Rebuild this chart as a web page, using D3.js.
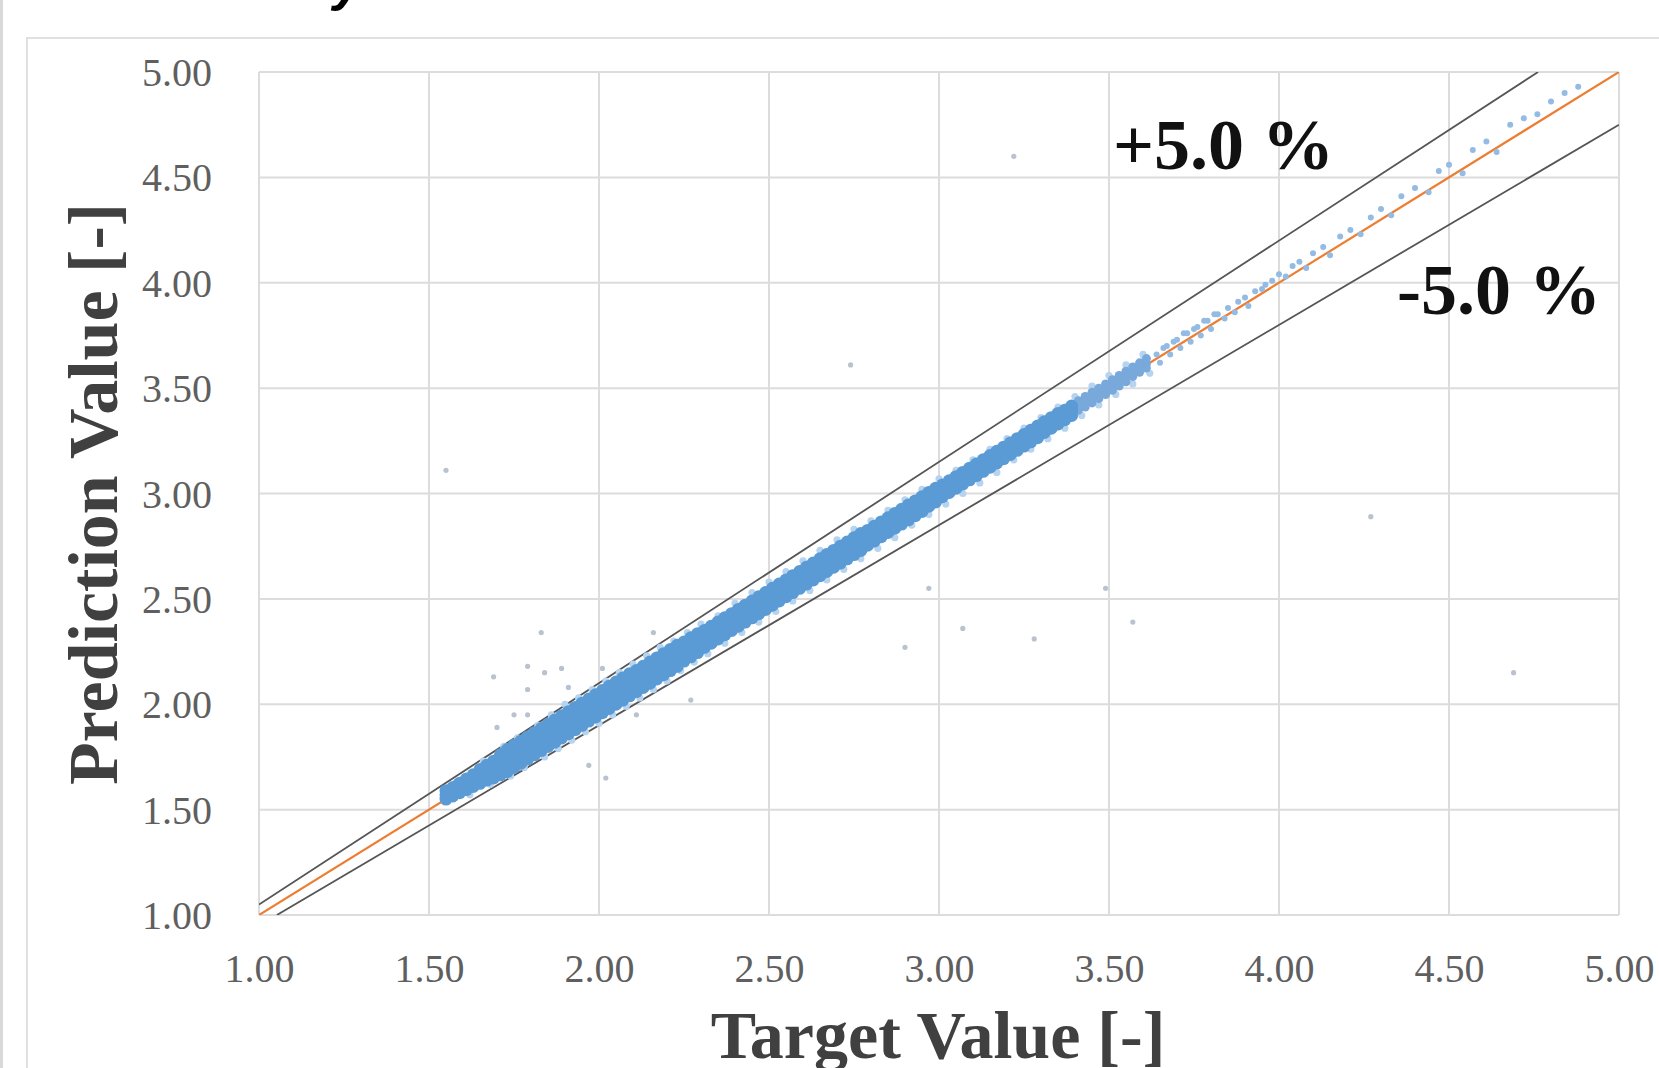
<!DOCTYPE html>
<html>
<head>
<meta charset="utf-8">
<script src="https://cdn.jsdelivr.net/npm/d3@7"></script>
<style>
  body { margin: 0; background: #fff; }
  svg { display: block; }
</style>
</head>
<body>
<div id="chart"></div>
<script>
// ticks shared by both axes
let tickValues = [1.00, 1.50, 2.00, 2.50, 3.00, 3.50, 4.00, 4.50, 5.00];
let axisDomain = [1, 5];
let xTitle = "Target Value [-]";
let yTitle = "Prediction Value [-]";
let upperLabel = "+5.0 %";
let lowerLabel = "-5.0 %";
let upperFactor = 1.05;
let lowerFactor = 0.95;

// dense band: [target, low, mid, high] prediction per column
let bandCols = [
	[1.55, 1.550, 1.570, 1.590], [1.57, 1.565, 1.585, 1.605], [1.59, 1.580, 1.600, 1.625],
	[1.61, 1.595, 1.620, 1.645], [1.63, 1.610, 1.640, 1.665], [1.65, 1.625, 1.655, 1.690],
	[1.67, 1.640, 1.675, 1.710], [1.69, 1.650, 1.690, 1.730], [1.71, 1.665, 1.715, 1.760],
	[1.73, 1.680, 1.735, 1.785], [1.75, 1.700, 1.755, 1.805], [1.77, 1.720, 1.775, 1.825],
	[1.79, 1.740, 1.795, 1.845], [1.81, 1.760, 1.815, 1.865], [1.83, 1.780, 1.835, 1.885],
	[1.85, 1.800, 1.855, 1.905], [1.87, 1.820, 1.875, 1.925], [1.89, 1.840, 1.895, 1.945],
	[1.91, 1.860, 1.915, 1.965], [1.93, 1.880, 1.935, 1.985], [1.95, 1.900, 1.955, 2.005],
	[1.97, 1.920, 1.975, 2.025], [1.99, 1.940, 1.995, 2.045], [2.01, 1.960, 2.015, 2.065],
	[2.03, 1.980, 2.035, 2.085], [2.05, 2.000, 2.055, 2.105], [2.07, 2.020, 2.075, 2.125],
	[2.09, 2.040, 2.095, 2.145], [2.11, 2.060, 2.110, 2.160], [2.13, 2.080, 2.130, 2.180],
	[2.15, 2.100, 2.150, 2.200], [2.17, 2.120, 2.170, 2.220], [2.19, 2.140, 2.190, 2.240],
	[2.21, 2.160, 2.210, 2.260], [2.23, 2.180, 2.230, 2.280], [2.25, 2.205, 2.250, 2.295],
	[2.27, 2.225, 2.270, 2.315], [2.29, 2.245, 2.290, 2.335], [2.31, 2.270, 2.310, 2.350],
	[2.33, 2.290, 2.330, 2.370], [2.35, 2.310, 2.350, 2.390], [2.37, 2.330, 2.370, 2.410],
	[2.39, 2.350, 2.390, 2.430], [2.41, 2.370, 2.410, 2.450], [2.43, 2.390, 2.430, 2.470],
	[2.45, 2.410, 2.450, 2.490], [2.47, 2.430, 2.470, 2.510], [2.49, 2.450, 2.490, 2.530],
	[2.51, 2.470, 2.510, 2.550], [2.53, 2.490, 2.530, 2.570], [2.55, 2.510, 2.550, 2.590],
	[2.57, 2.530, 2.570, 2.610], [2.59, 2.550, 2.590, 2.630], [2.61, 2.570, 2.610, 2.650],
	[2.63, 2.590, 2.630, 2.670], [2.65, 2.610, 2.650, 2.690], [2.67, 2.630, 2.670, 2.710],
	[2.69, 2.650, 2.690, 2.730], [2.71, 2.670, 2.710, 2.750], [2.73, 2.690, 2.730, 2.770],
	[2.75, 2.710, 2.750, 2.790], [2.77, 2.730, 2.770, 2.810], [2.79, 2.755, 2.790, 2.825],
	[2.81, 2.775, 2.810, 2.845], [2.83, 2.795, 2.830, 2.865], [2.85, 2.815, 2.850, 2.885],
	[2.87, 2.835, 2.870, 2.905], [2.89, 2.855, 2.890, 2.925], [2.91, 2.875, 2.910, 2.945],
	[2.93, 2.895, 2.930, 2.965], [2.95, 2.915, 2.950, 2.985], [2.97, 2.940, 2.970, 3.005],
	[2.99, 2.960, 2.990, 3.025], [3.01, 2.985, 3.015, 3.040], [3.03, 3.005, 3.035, 3.060],
	[3.05, 3.025, 3.055, 3.080], [3.07, 3.045, 3.075, 3.100], [3.09, 3.065, 3.095, 3.120],
	[3.11, 3.085, 3.115, 3.140], [3.13, 3.105, 3.135, 3.160], [3.15, 3.125, 3.155, 3.180],
	[3.17, 3.145, 3.175, 3.200], [3.19, 3.165, 3.195, 3.220], [3.21, 3.185, 3.215, 3.240],
	[3.23, 3.205, 3.235, 3.260], [3.25, 3.225, 3.255, 3.280], [3.27, 3.245, 3.275, 3.300],
	[3.29, 3.265, 3.295, 3.320], [3.31, 3.290, 3.315, 3.340], [3.33, 3.310, 3.335, 3.360],
	[3.35, 3.330, 3.355, 3.380], [3.37, 3.350, 3.375, 3.395], [3.39, 3.370, 3.395, 3.415]
];

// thinner, lighter part of the band
let thinCols = [
	[3.41, 3.395, 3.415, 3.440], [3.43, 3.410, 3.435, 3.460], [3.45, 3.430, 3.455, 3.480],
	[3.47, 3.450, 3.475, 3.500], [3.49, 3.470, 3.495, 3.520], [3.51, 3.490, 3.515, 3.540],
	[3.53, 3.510, 3.535, 3.560], [3.55, 3.530, 3.555, 3.580], [3.57, 3.555, 3.575, 3.600],
	[3.59, 3.575, 3.595, 3.620], [3.61, 3.595, 3.615, 3.640]
];

// loose points just outside the band
let fringePoints = [
	[1.58, 1.63], [1.62, 1.57], [1.66, 1.73], [1.68, 1.62], [1.72, 1.80], [1.74, 1.66],
	[1.76, 1.84], [1.78, 1.70], [1.82, 1.90], [1.84, 1.75], [1.86, 1.95], [1.88, 1.79],
	[1.90, 2.00], [1.92, 1.83], [1.94, 2.03], [1.96, 1.87], [1.98, 2.07], [2.00, 1.91],
	[2.02, 2.11], [2.04, 1.95], [2.06, 2.15], [2.08, 1.99], [2.10, 2.19], [2.12, 2.03],
	[2.14, 2.23], [2.16, 2.07], [2.18, 2.27], [2.20, 2.11], [2.22, 2.30], [2.24, 2.16],
	[2.26, 2.34], [2.28, 2.20], [2.30, 2.38], [2.32, 2.24], [2.35, 2.42], [2.37, 2.29],
	[2.40, 2.48], [2.42, 2.34], [2.45, 2.53], [2.47, 2.39], [2.50, 2.58], [2.52, 2.44],
	[2.55, 2.63], [2.57, 2.49], [2.60, 2.68], [2.62, 2.54], [2.65, 2.73], [2.67, 2.59],
	[2.70, 2.78], [2.72, 2.64], [2.75, 2.83], [2.77, 2.69], [2.80, 2.87], [2.82, 2.74],
	[2.85, 2.92], [2.87, 2.79], [2.90, 2.97], [2.92, 2.85], [2.95, 3.02], [2.97, 2.90],
	[3.00, 3.07], [3.02, 2.95], [3.05, 3.11], [3.07, 3.00], [3.10, 3.16], [3.12, 3.05],
	[3.15, 3.21], [3.17, 3.10], [3.20, 3.26], [3.22, 3.16], [3.25, 3.31], [3.27, 3.21],
	[3.30, 3.36], [3.32, 3.26], [3.35, 3.41], [3.37, 3.31], [3.40, 3.46], [3.42, 3.37],
	[3.45, 3.51], [3.47, 3.42], [3.50, 3.56], [3.52, 3.47], [3.55, 3.61], [3.57, 3.52],
	[3.60, 3.66], [3.62, 3.57]
];

// sparse points at the upper end
let sparsePoints = [
	[3.64, 3.66], [3.65, 3.62], [3.66, 3.69], [3.67, 3.70], [3.68, 3.66], [3.69, 3.72],
	[3.70, 3.73], [3.71, 3.69], [3.72, 3.76], [3.73, 3.76], [3.74, 3.72], [3.75, 3.78],
	[3.76, 3.79], [3.77, 3.75], [3.78, 3.82], [3.79, 3.82], [3.80, 3.78], [3.81, 3.85],
	[3.82, 3.85], [3.84, 3.83], [3.85, 3.88], [3.87, 3.86], [3.88, 3.91], [3.90, 3.93],
	[3.91, 3.89], [3.93, 3.96], [3.95, 3.97], [3.96, 3.99], [3.98, 4.01], [4.00, 4.04],
	[4.02, 4.03], [4.04, 4.08], [4.06, 4.10], [4.08, 4.07], [4.10, 4.14], [4.13, 4.17],
	[4.15, 4.13], [4.18, 4.22], [4.21, 4.25], [4.24, 4.23], [4.27, 4.31], [4.30, 4.35],
	[4.33, 4.32], [4.36, 4.41], [4.40, 4.45], [4.44, 4.43], [4.47, 4.53], [4.50, 4.56],
	[4.54, 4.52], [4.57, 4.63], [4.61, 4.67], [4.64, 4.62], [4.68, 4.75], [4.72, 4.78],
	[4.76, 4.80], [4.80, 4.86], [4.84, 4.90], [4.88, 4.93]
];

// isolated outliers
let outlierPoints = [
	[3.22, 4.60], [2.74, 3.61], [1.55, 3.11], [4.27, 2.89], [2.97, 2.55], [3.49, 2.55],
	[3.57, 2.39], [3.07, 2.36], [3.28, 2.31], [2.90, 2.27], [4.69, 2.15], [1.83, 2.34],
	[1.79, 2.18], [1.84, 2.15], [1.89, 2.17], [1.69, 2.13], [1.79, 2.07], [1.91, 2.08],
	[1.75, 1.95], [1.79, 1.95], [1.70, 1.89], [2.16, 2.34], [2.01, 2.17], [2.27, 2.02],
	[1.97, 1.71], [2.02, 1.65], [2.11, 1.95]
];

const W = 1659, H = 1068;
const plot = { left: 259, right: 1619, top: 72, bottom: 915 };
const serif = "'Liberation Serif', 'Times New Roman', serif";

let svg = d3.select("#chart").append("svg")
	.attr("width", W)
	.attr("height", H);

// outer chart frame
svg.append("line").attr("x1", 1.5).attr("x2", 1.5).attr("y1", 0).attr("y2", H)
	.attr("stroke", "#d9d9d9").attr("stroke-width", 3);
svg.append("path")
	.attr("d", "M27," + H + " V38 H" + W)
	.attr("fill", "none").attr("stroke", "#e0e0e0").attr("stroke-width", 2);

// part of a title sitting above the crop
svg.append("text")
	.attr("x", 333).attr("y", 0)
	.attr("font-family", "'Liberation Sans', Arial, sans-serif")
	.attr("font-weight", "bold").attr("font-style", "italic")
	.attr("font-size", 52)
	.text("y");

let x = d3.scaleLinear().domain(axisDomain).range([plot.left, plot.right]);
let y = d3.scaleLinear().domain(axisDomain).range([plot.bottom, plot.top]);

// grid
let grid = svg.append("g").attr("stroke", "#dcdcdc").attr("stroke-width", 2);
grid.selectAll(".vg").data(tickValues).join("line")
	.attr("x1", d => x(d)).attr("x2", d => x(d))
	.attr("y1", plot.top).attr("y2", plot.bottom);
grid.selectAll(".hg").data(tickValues).join("line")
	.attr("x1", plot.left).attr("x2", plot.right)
	.attr("y1", d => y(d)).attr("y2", d => y(d));

// axes (labels only, Excel style)
let xAxis = svg.append("g")
	.attr("transform", "translate(0," + plot.bottom + ")")
	.call(d3.axisBottom(x).tickValues(tickValues).tickFormat(d3.format(".2f")).tickSize(0).tickPadding(67));
let yAxis = svg.append("g")
	.attr("transform", "translate(" + (plot.left - 47) + ",0)")
	.call(d3.axisLeft(y).tickValues(tickValues).tickFormat(d3.format(".2f")).tickSize(0).tickPadding(0));
[xAxis, yAxis].forEach(a => {
	a.select(".domain").remove();
	a.selectAll("text")
		.attr("font-family", serif)
		.attr("font-size", 40)
		.attr("fill", "#5f5f5f");
});
xAxis.selectAll("text").attr("dy", 0);
yAxis.selectAll("text").attr("dy", "0.34em");

// +-5 % band lines and the y = x line
svg.append("clipPath").attr("id", "plotClip")
	.append("rect")
	.attr("x", plot.left).attr("y", plot.top)
	.attr("width", plot.right - plot.left).attr("height", plot.bottom - plot.top);

let lines = svg.append("g").attr("clip-path", "url(#plotClip)");
let lineGen = d3.line().x(d => x(d[0])).y(d => y(d[1]));
lines.append("path")
	.attr("d", lineGen([[1, upperFactor], [5 / upperFactor, 5]]))
	.attr("stroke", "#555").attr("stroke-width", 1.8).attr("fill", "none");
lines.append("path")
	.attr("d", lineGen([[1 / lowerFactor, 1], [5, 5 * lowerFactor]]))
	.attr("stroke", "#555").attr("stroke-width", 1.8).attr("fill", "none");
lines.append("path")
	.attr("d", lineGen([[1, 1], [5, 5]]))
	.attr("stroke", "#ED7D31").attr("stroke-width", 2.2).attr("fill", "none");

// points
let pts = svg.append("g");
function drawPoints(data, r, color) {
	pts.append("g").selectAll("circle").data(data).join("circle")
		.attr("cx", d => x(d[0])).attr("cy", d => y(d[1]))
		.attr("r", r).attr("fill", color);
}
function colsToPoints(cols) {
	let out = [];
	cols.forEach(c => { out.push([c[0], c[1]], [c[0], c[2]], [c[0], c[3]]); });
	return out;
}
drawPoints(fringePoints, 3.6, "#b6d3ef");
drawPoints(outlierPoints, 2.6, "#b9c3cf");
drawPoints(sparsePoints, 3.0, "#93bbe4");
drawPoints(colsToPoints(thinCols), 4.5, "#79a9db");
drawPoints(colsToPoints(bandCols), 6.5, "#5B9BD5");

// annotations
svg.append("text")
	.attr("x", 1113).attr("y", 169)
	.attr("font-family", serif).attr("font-weight", "bold").attr("font-size", 72)
	.attr("fill", "#111")
	.text(upperLabel);
svg.append("text")
	.attr("x", 1397).attr("y", 314)
	.attr("font-family", serif).attr("font-weight", "bold").attr("font-size", 72)
	.attr("fill", "#111")
	.text(lowerLabel);

// axis titles
svg.append("text")
	.attr("x", 938).attr("y", 1058)
	.attr("text-anchor", "middle")
	.attr("font-family", serif).attr("font-weight", "bold").attr("font-size", 68)
	.attr("fill", "#404040")
	.text(xTitle);
svg.append("text")
	.attr("transform", "translate(117,494) rotate(-90)")
	.attr("text-anchor", "middle")
	.attr("font-family", serif).attr("font-weight", "bold").attr("font-size", 70)
	.attr("fill", "#404040")
	.text(yTitle);
</script>
</body>
</html>
